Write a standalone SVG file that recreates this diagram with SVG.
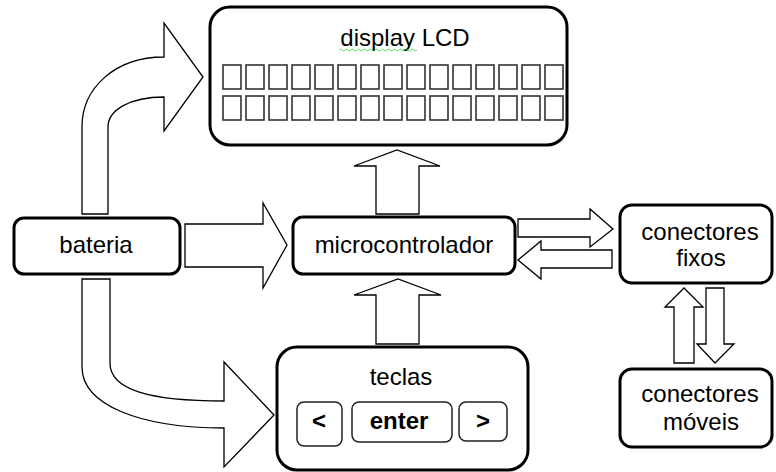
<svg xmlns="http://www.w3.org/2000/svg" width="776" height="472" viewBox="0 0 776 472">
<style>
.box{fill:#fff;stroke:#000;stroke-width:3}
.btn{fill:#fff;stroke:#222;stroke-width:1.5}
.arr{fill:#fff;stroke:#000;stroke-width:1.3;stroke-linejoin:miter}
.sq{fill:none;stroke:#333;stroke-width:1.6}
.t{font-family:"Liberation Sans",Arial,sans-serif;font-size:24px;fill:#000;text-anchor:middle}
.b{font-weight:bold}
</style>
<defs>
<rect id="sq" class="sq" width="18" height="24"/>
<g id="row">
<use href="#sq" x="0"/><use href="#sq" x="23"/><use href="#sq" x="46"/><use href="#sq" x="69"/><use href="#sq" x="92"/>
<use href="#sq" x="115"/><use href="#sq" x="138"/><use href="#sq" x="161"/><use href="#sq" x="184"/><use href="#sq" x="207"/>
<use href="#sq" x="230"/><use href="#sq" x="253"/><use href="#sq" x="276"/><use href="#sq" x="299"/><use href="#sq" x="322"/>
</g>
</defs>
<rect width="776" height="472" fill="#fff"/>
<g id="connectors">
<path class="arr" d="M82 214 L82 127 C82 88 115 57 164 57 L164 23 L203 77 L164 131 L164 97 C130 97 108 110 108 127 L108 214 Z"/>
<path class="arr" d="M82 279 L82 367 C82 405 140 428 224 428 L224 467 L274 415 L224 362 L224 401 C150 401 110 390 110 363 L110 279 Z"/>
<path class="arr" d="M185 224 L263 224 L263 203 L287 245 L263 288 L263 267 L185 267 Z"/>
<path class="arr" d="M376 214 L376 166 L354 166 L397 150 L440 166 L419 166 L419 214 Z"/>
<path class="arr" d="M376 344 L376 295 L354 295 L398 279 L441 295 L419 295 L419 344 Z"/>
<path class="arr" d="M518 219 L590 219 L590 209 L613 229 L590 247 L590 237 L518 237 Z"/>
<path class="arr" d="M612 250 L541 250 L541 241 L518 260 L541 279 L541 268 L612 268 Z"/>
<path class="arr" d="M674 363 L674 307 L665 307 L684 288 L703 307 L694 307 L694 363 Z"/>
<path class="arr" d="M706 288 L724 288 L724 344 L734 344 L715 363 L697 344 L706 344 Z"/>
</g>
<g id="display">
<rect class="box" x="210" y="7" width="357" height="138" rx="20"/>
<text class="t" x="405" y="46">display LCD</text>
<path d="M339 50 q1.5 -2 3 0 t3 0 t3 0 t3 0 t3 0 t3 0 t3 0 t3 0 t3 0 t3 0 t3 0 t3 0 t3 0 t3 0 t3 0 t3 0 t3 0 t3 0 t3 0 t3 0 t3 0 t3 0 t3 0 t3 0 t3 0 t3 0" fill="none" stroke="#3c3" stroke-width="0.8"/>
<use href="#row" x="223" y="65"/>
<use href="#row" x="223" y="96"/>
</g>
<g id="bateria">
<rect class="box" x="14" y="218" width="166" height="56" rx="10"/>
<text class="t" x="96" y="253">bateria</text>
</g>
<g id="microcontrolador">
<rect class="box" x="293" y="217" width="222" height="57" rx="10"/>
<text class="t" x="404" y="253">microcontrolador</text>
</g>
<g id="conectores-fixos">
<rect class="box" x="620" y="205" width="152" height="78" rx="12"/>
<text class="t" x="700" y="240">conectores</text>
<text class="t" x="701" y="266">fixos</text>
</g>
<g id="conectores-moveis">
<rect class="box" x="620" y="369" width="152" height="78" rx="12"/>
<text class="t" x="700" y="402">conectores</text>
<text class="t" x="701" y="430">móveis</text>
</g>
<g id="teclas">
<rect class="box" x="277" y="347" width="251" height="123" rx="20"/>
<text class="t" x="401" y="385">teclas</text>
<rect class="btn" x="297" y="402" width="45" height="44" rx="7"/>
<text class="t b" x="319" y="429">&lt;</text>
<rect class="btn" x="352" y="402" width="100" height="40" rx="7"/>
<text class="t b" x="399" y="429">enter</text>
<rect class="btn" x="459" y="402" width="48" height="39" rx="7"/>
<text class="t b" x="483" y="429">&gt;</text>
</g>
</svg>
